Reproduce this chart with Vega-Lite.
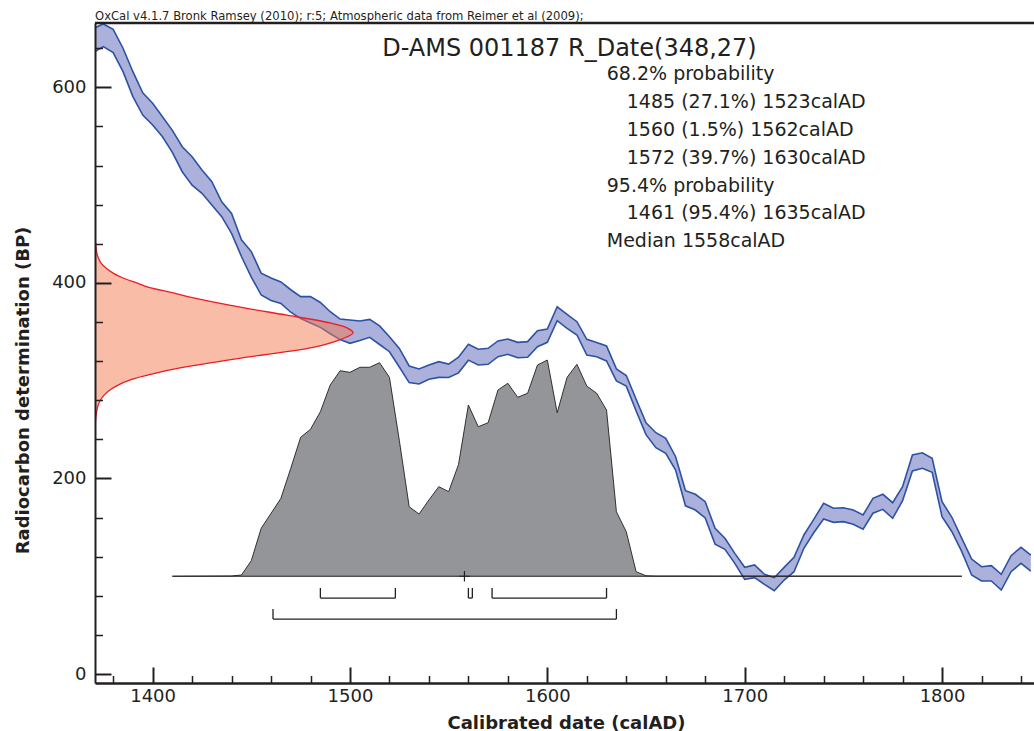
{
  "$schema": "https://vega.github.io/schema/vega-lite/v6.json",
  "width": 939,
  "height": 660,
  "autosize": {"type": "none"},
  "padding": {"left": 95, "top": 23, "right": 0, "bottom": 48},
  "background": "white",
  "config": {"view": {"stroke": null}, "font": "DejaVu Sans"},
  "title": {
    "text": "OxCal v4.1.7 Bronk Ramsey (2010); r:5; Atmospheric data from Reimer et al (2009);",
    "anchor": "start", "frame": "group", "font": "DejaVu Sans", "fontSize": 11.6,
    "fontWeight": "normal", "color": "#231f20", "baseline": "alphabetic", "offset": 2, "dy": 12
  },
  "datasets": {
    "curve": [
      {"year": 1370, "lo": 635.5, "hi": 660.4}, {"year": 1375, "lo": 641.7, "hi": 664.8},
      {"year": 1380, "lo": 635.5, "hi": 659.3}, {"year": 1385, "lo": 616.0, "hi": 640.0},
      {"year": 1390, "lo": 590.5, "hi": 616.0}, {"year": 1395, "lo": 571.7, "hi": 594.5},
      {"year": 1400, "lo": 561.5, "hi": 583.8}, {"year": 1405, "lo": 549.5, "hi": 570.0},
      {"year": 1410, "lo": 533.5, "hi": 556.0}, {"year": 1415, "lo": 513.7, "hi": 539.3},
      {"year": 1420, "lo": 500.0, "hi": 529.0}, {"year": 1425, "lo": 491.6, "hi": 515.4},
      {"year": 1430, "lo": 479.7, "hi": 503.5}, {"year": 1435, "lo": 467.7, "hi": 483.0},
      {"year": 1440, "lo": 450.7, "hi": 471.0}, {"year": 1445, "lo": 427.0, "hi": 444.0},
      {"year": 1450, "lo": 406.0, "hi": 432.0}, {"year": 1455, "lo": 387.6, "hi": 410.0},
      {"year": 1460, "lo": 382.0, "hi": 405.0}, {"year": 1465, "lo": 379.0, "hi": 401.0},
      {"year": 1470, "lo": 370.0, "hi": 393.0}, {"year": 1475, "lo": 363.5, "hi": 386.0},
      {"year": 1480, "lo": 359.0, "hi": 386.0}, {"year": 1485, "lo": 354.5, "hi": 380.0},
      {"year": 1490, "lo": 348.0, "hi": 370.5}, {"year": 1495, "lo": 342.0, "hi": 363.0},
      {"year": 1500, "lo": 338.2, "hi": 362.0}, {"year": 1505, "lo": 341.0, "hi": 361.0},
      {"year": 1510, "lo": 344.3, "hi": 362.7}, {"year": 1515, "lo": 337.0, "hi": 356.0},
      {"year": 1520, "lo": 329.6, "hi": 345.0}, {"year": 1525, "lo": 314.0, "hi": 333.0},
      {"year": 1530, "lo": 298.0, "hi": 315.0}, {"year": 1535, "lo": 296.6, "hi": 312.0},
      {"year": 1540, "lo": 301.4, "hi": 316.0}, {"year": 1545, "lo": 303.4, "hi": 319.4},
      {"year": 1550, "lo": 303.2, "hi": 317.0}, {"year": 1555, "lo": 308.0, "hi": 324.0},
      {"year": 1560, "lo": 321.0, "hi": 337.2}, {"year": 1565, "lo": 316.0, "hi": 332.1},
      {"year": 1570, "lo": 316.7, "hi": 333.1}, {"year": 1575, "lo": 324.5, "hi": 340.6},
      {"year": 1580, "lo": 327.0, "hi": 342.6}, {"year": 1585, "lo": 323.5, "hi": 339.2},
      {"year": 1590, "lo": 324.0, "hi": 339.9}, {"year": 1595, "lo": 334.7, "hi": 351.1},
      {"year": 1600, "lo": 339.2, "hi": 352.8}, {"year": 1605, "lo": 361.3, "hi": 375.6},
      {"year": 1610, "lo": 353.5, "hi": 367.9}, {"year": 1615, "lo": 346.7, "hi": 360.3},
      {"year": 1620, "lo": 326.2, "hi": 342.3}, {"year": 1625, "lo": 324.5, "hi": 339.0},
      {"year": 1630, "lo": 320.2, "hi": 335.5}, {"year": 1635, "lo": 299.8, "hi": 312.0},
      {"year": 1640, "lo": 294.4, "hi": 305.3}, {"year": 1645, "lo": 269.0, "hi": 281.0},
      {"year": 1650, "lo": 244.8, "hi": 257.0}, {"year": 1655, "lo": 231.4, "hi": 246.8},
      {"year": 1660, "lo": 225.7, "hi": 241.0}, {"year": 1665, "lo": 208.6, "hi": 222.2},
      {"year": 1670, "lo": 172.0, "hi": 187.5}, {"year": 1675, "lo": 167.7, "hi": 183.8},
      {"year": 1680, "lo": 159.6, "hi": 176.2}, {"year": 1685, "lo": 132.8, "hi": 149.0},
      {"year": 1690, "lo": 127.5, "hi": 138.8}, {"year": 1695, "lo": 113.2, "hi": 123.4},
      {"year": 1700, "lo": 96.8, "hi": 109.1}, {"year": 1705, "lo": 98.5, "hi": 111.5},
      {"year": 1710, "lo": 91.7, "hi": 102.0}, {"year": 1715, "lo": 85.2, "hi": 98.5},
      {"year": 1720, "lo": 96.1, "hi": 109.1}, {"year": 1725, "lo": 104.6, "hi": 119.3},
      {"year": 1730, "lo": 128.6, "hi": 142.2}, {"year": 1735, "lo": 144.5, "hi": 158.2},
      {"year": 1740, "lo": 158.5, "hi": 174.6}, {"year": 1745, "lo": 155.1, "hi": 169.5},
      {"year": 1750, "lo": 155.8, "hi": 170.1}, {"year": 1755, "lo": 153.1, "hi": 167.7},
      {"year": 1760, "lo": 148.0, "hi": 162.6}, {"year": 1765, "lo": 164.4, "hi": 179.7},
      {"year": 1770, "lo": 168.4, "hi": 183.8}, {"year": 1775, "lo": 159.2, "hi": 175.2},
      {"year": 1780, "lo": 177.2, "hi": 191.6}, {"year": 1785, "lo": 207.6, "hi": 224.0},
      {"year": 1790, "lo": 210.4, "hi": 226.3}, {"year": 1795, "lo": 206.3, "hi": 220.6},
      {"year": 1800, "lo": 160.9, "hi": 176.2}, {"year": 1805, "lo": 145.5, "hi": 160.3},
      {"year": 1810, "lo": 125.1, "hi": 138.8}, {"year": 1815, "lo": 101.2, "hi": 117.6},
      {"year": 1820, "lo": 95.1, "hi": 109.7}, {"year": 1825, "lo": 95.1, "hi": 110.8},
      {"year": 1830, "lo": 85.9, "hi": 102.0}, {"year": 1835, "lo": 104.6, "hi": 121.0},
      {"year": 1840, "lo": 113.2, "hi": 129.6}, {"year": 1845, "lo": 105.3, "hi": 121.7}
    ],
    "rdate": [
      {"bp": 451, "x": 1370.8}, {"bp": 445, "x": 1370.9}, {"bp": 440, "x": 1371.1},
      {"bp": 430, "x": 1371.8}, {"bp": 425, "x": 1372.6}, {"bp": 420, "x": 1374.0},
      {"bp": 415, "x": 1376.5}, {"bp": 410, "x": 1380.0}, {"bp": 405, "x": 1385.0},
      {"bp": 400, "x": 1392.0}, {"bp": 396, "x": 1397.2}, {"bp": 390, "x": 1410.0},
      {"bp": 384, "x": 1422.5}, {"bp": 374, "x": 1447.8}, {"bp": 367, "x": 1468.1},
      {"bp": 359, "x": 1489.9}, {"bp": 354, "x": 1498.5}, {"bp": 349, "x": 1501.6},
      {"bp": 342, "x": 1495.0}, {"bp": 334, "x": 1481.3}, {"bp": 324, "x": 1447.8},
      {"bp": 313, "x": 1413.9}, {"bp": 307, "x": 1400.0}, {"bp": 301, "x": 1389.0},
      {"bp": 295, "x": 1382.0}, {"bp": 290, "x": 1378.0}, {"bp": 285, "x": 1375.3},
      {"bp": 280, "x": 1373.5}, {"bp": 275, "x": 1372.4}, {"bp": 268, "x": 1371.6},
      {"bp": 260, "x": 1371.1}, {"bp": 253, "x": 1370.8}
    ],
    "posterior": [
      {"year": 1410, "p": 100.0}, {"year": 1440, "p": 100.3}, {"year": 1445, "p": 101.2},
      {"year": 1450, "p": 115.9}, {"year": 1455, "p": 149.0}, {"year": 1460, "p": 164.3},
      {"year": 1465, "p": 179.7}, {"year": 1470, "p": 210.4}, {"year": 1475, "p": 242.1},
      {"year": 1480, "p": 250.3}, {"year": 1485, "p": 268.3}, {"year": 1490, "p": 295.6},
      {"year": 1495, "p": 310.2}, {"year": 1500, "p": 308.5}, {"year": 1505, "p": 313.7},
      {"year": 1510, "p": 313.7}, {"year": 1515, "p": 318.4}, {"year": 1520, "p": 303.4},
      {"year": 1525, "p": 239.0}, {"year": 1530, "p": 171.1}, {"year": 1535, "p": 163.6},
      {"year": 1540, "p": 178.0}, {"year": 1545, "p": 191.6}, {"year": 1550, "p": 186.5},
      {"year": 1555, "p": 214.3}, {"year": 1560, "p": 275.1}, {"year": 1565, "p": 252.9},
      {"year": 1570, "p": 257.0}, {"year": 1575, "p": 290.5}, {"year": 1580, "p": 297.3},
      {"year": 1585, "p": 283.0}, {"year": 1590, "p": 287.1}, {"year": 1595, "p": 316.0},
      {"year": 1600, "p": 321.1}, {"year": 1605, "p": 267.2}, {"year": 1610, "p": 303.4},
      {"year": 1615, "p": 316.7}, {"year": 1620, "p": 294.5}, {"year": 1625, "p": 287.1},
      {"year": 1630, "p": 270.0}, {"year": 1635, "p": 166.0}, {"year": 1640, "p": 145.5},
      {"year": 1645, "p": 104.6}, {"year": 1650, "p": 100.5}, {"year": 1655, "p": 100.2},
      {"year": 1810, "p": 100.0}
    ],
    "ranges": [
      {"level": "68.2", "from": 1485, "to": 1523},
      {"level": "68.2", "from": 1560, "to": 1562},
      {"level": "68.2", "from": 1572, "to": 1630},
      {"level": "95.4", "from": 1461, "to": 1635}
    ]
  },
  "layer": [
    {
      "data": {"name": "curve"},
      "mark": {"type": "area", "fill": "#abb1db", "clip": true},
      "encoding": {
        "x": {
          "field": "year", "type": "quantitative",
          "scale": {"domain": [1370.8, 1846.6], "nice": false, "zero": false},
          "axis": {
            "title": "Calibrated date (calAD)",
            "values": [1380, 1390, 1400, 1410, 1420, 1430, 1440, 1450, 1460, 1470, 1480, 1490, 1500, 1510, 1520, 1530, 1540, 1550, 1560, 1570, 1580, 1590, 1600, 1610, 1620, 1630, 1640, 1650, 1660, 1670, 1680, 1690, 1700, 1710, 1720, 1730, 1740, 1750, 1760, 1770, 1780, 1790, 1800, 1810, 1820, 1830, 1840],
            "format": "d",
            "labelExpr": "datum.value % 100 === 0 ? datum.label : ''",
            "labelOverlap": false, "labelFlush": false,
            "labelFont": "DejaVu Sans", "labelFontSize": 18, "labelColor": "#231f20",
            "labelPadding": 20, "labelBaseline": "top",
            "tickSize": {"condition": {"test": "datum.value % 100 === 0", "value": -16}, "value": -7.5},
            "tickWidth": {"condition": {"test": "datum.value % 100 === 0", "value": 2}, "value": 1.5},
            "tickColor": "#231f20",
            "domainColor": "#231f20", "domainWidth": 2.5,
            "grid": false,
            "titleFont": "DejaVu Sans", "titleFontSize": 18, "titleFontWeight": "bold",
            "titleColor": "#231f20", "titleX": 471, "titleY": 45,
            "titleAlign": "center", "titleBaseline": "alphabetic",
            "zindex": 1
          }
        },
        "y": {
          "field": "lo", "type": "quantitative",
          "scale": {"domain": [-9.2, 665.8], "nice": false, "zero": false},
          "axis": {
            "title": "Radiocarbon determination (BP)",
            "values": [0, 10, 20, 30, 40, 50, 60, 70, 80, 90, 100, 110, 120, 130, 140, 150, 160, 170, 180, 190, 200, 210, 220, 230, 240, 250, 260, 270, 280, 290, 300, 310, 320, 330, 340, 350, 360, 370, 380, 390, 400, 410, 420, 430, 440, 450, 460, 470, 480, 490, 500, 510, 520, 530, 540, 550, 560, 570, 580, 590, 600, 610, 620, 630, 640, 650, 660],
            "format": "d",
            "labelExpr": "datum.value % 100 === 0 ? datum.label : ''",
            "labelOverlap": false, "labelFlush": false,
            "labelFont": "DejaVu Sans", "labelFontSize": 18, "labelColor": "#231f20",
            "labelPadding": 25,
            "tickSize": {"condition": {"test": "datum.value % 100 === 0", "value": -16}, "value": -7.5},
            "tickWidth": {"condition": {"test": "datum.value % 100 === 0", "value": 2}, "value": 1.5},
            "tickColor": "#231f20",
            "domainColor": "#231f20", "domainWidth": 2,
            "grid": false,
            "titleFont": "DejaVu Sans", "titleFontSize": 18, "titleFontWeight": "bold",
            "titleColor": "#231f20", "titleX": -72, "titleY": 367,
            "titleAlign": "center", "titleBaseline": "middle", "titleAngle": -90,
            "zindex": 1
          }
        },
        "y2": {"field": "hi"}
      }
    },
    {
      "data": {"name": "curve"},
      "mark": {"type": "line", "stroke": "#2d52a3", "strokeWidth": 1.6, "clip": true},
      "encoding": {
        "x": {"field": "year", "type": "quantitative"},
        "y": {"field": "hi", "type": "quantitative"}
      }
    },
    {
      "data": {"name": "curve"},
      "mark": {"type": "line", "stroke": "#2d52a3", "strokeWidth": 1.6, "clip": true},
      "encoding": {
        "x": {"field": "year", "type": "quantitative"},
        "y": {"field": "lo", "type": "quantitative"}
      }
    },
    {
      "data": {"name": "rdate"},
      "mark": {"type": "area", "orient": "horizontal", "interpolate": "catmull-rom", "fill": "#f47a50", "fillOpacity": 0.5, "clip": true},
      "encoding": {
        "y": {"field": "bp", "type": "quantitative"},
        "x": {"field": "x", "type": "quantitative", "stack": null},
        "x2": {"datum": 1370.8}
      }
    },
    {
      "data": {"name": "rdate"},
      "mark": {"type": "line", "interpolate": "catmull-rom", "stroke": "#ed1c24", "strokeWidth": 1.3, "clip": true},
      "encoding": {
        "y": {"field": "bp", "type": "quantitative"},
        "x": {"field": "x", "type": "quantitative"},
        "order": {"value": null}
      }
    },
    {
      "data": {"name": "posterior"},
      "mark": {"type": "area", "fill": "#939598"},
      "encoding": {
        "x": {"field": "year", "type": "quantitative"},
        "y": {"field": "p", "type": "quantitative"},
        "y2": {"datum": 100}
      }
    },
    {
      "data": {"name": "posterior"},
      "mark": {"type": "line", "stroke": "#231f20", "strokeWidth": 0.9},
      "encoding": {
        "x": {"field": "year", "type": "quantitative"},
        "y": {"field": "p", "type": "quantitative"}
      }
    },
    {
      "data": {"name": "posterior"},
      "transform": [{"aggregate": [{"op": "min", "field": "year", "as": "start"}, {"op": "max", "field": "year", "as": "end"}]}],
      "mark": {"type": "rule", "stroke": "#231f20", "strokeWidth": 1.2},
      "encoding": {
        "x": {"field": "start", "type": "quantitative"},
        "x2": {"field": "end"},
        "y": {"datum": 100}
      }
    },
    {
      "data": {"name": "ranges"},
      "transform": [{"filter": "datum.level === '68.2'"}],
      "mark": {"type": "rule", "stroke": "#231f20", "strokeWidth": 1.3},
      "encoding": {
        "x": {"field": "from", "type": "quantitative"},
        "x2": {"field": "to"},
        "y": {"datum": 77.7}
      }
    },
    {
      "data": {"name": "ranges"},
      "transform": [{"filter": "datum.level === '68.2'"}, {"fold": ["from", "to"], "as": ["end", "edge"]}],
      "mark": {"type": "rule", "stroke": "#231f20", "strokeWidth": 1.3},
      "encoding": {
        "x": {"field": "edge", "type": "quantitative"},
        "y": {"datum": 77.7},
        "y2": {"datum": 88.0}
      }
    },
    {
      "data": {"name": "ranges"},
      "transform": [{"filter": "datum.level === '95.4'"}],
      "mark": {"type": "rule", "stroke": "#231f20", "strokeWidth": 1.3},
      "encoding": {
        "x": {"field": "from", "type": "quantitative"},
        "x2": {"field": "to"},
        "y": {"datum": 56.2}
      }
    },
    {
      "data": {"name": "ranges"},
      "transform": [{"filter": "datum.level === '95.4'"}, {"fold": ["from", "to"], "as": ["end", "edge"]}],
      "mark": {"type": "rule", "stroke": "#231f20", "strokeWidth": 1.3},
      "encoding": {
        "x": {"field": "edge", "type": "quantitative"},
        "y": {"datum": 56.2},
        "y2": {"datum": 66.5}
      }
    },
    {
      "data": {"values": [{"median": 1558}]},
      "mark": {"type": "point", "shape": "M-1,0L1,0M0,-1L0,1", "size": 110, "filled": false, "stroke": "#231f20", "strokeWidth": 1.2, "opacity": 1},
      "encoding": {
        "x": {"field": "median", "type": "quantitative"},
        "y": {"datum": 100}
      }
    },
    {
      "data": {"values": [{"name": "D-AMS 001187 R_Date(348,27)"}]},
      "mark": {"type": "text", "align": "left", "baseline": "middle", "font": "DejaVu Sans", "fontSize": 24, "color": "#231f20"},
      "encoding": {
        "text": {"field": "name"},
        "x": {"datum": 1516.3},
        "y": {"datum": 639.2}
      }
    },
    {
      "data": {"values": [{"line": "68.2% probability"}]},
      "mark": {"type": "text", "align": "left", "baseline": "middle", "font": "DejaVu Sans", "fontSize": 19, "color": "#231f20"},
      "encoding": {"text": {"field": "line"}, "x": {"datum": 1630.1}, "y": {"datum": 614.1}}
    },
    {
      "data": {"values": [{"lines": ["1485 (27.1%) 1523calAD", "1560 (1.5%) 1562calAD", "1572 (39.7%) 1630calAD"]}]},
      "mark": {"type": "text", "align": "left", "baseline": "middle", "font": "DejaVu Sans", "fontSize": 19, "lineHeight": 28, "dx": 20, "color": "#231f20"},
      "encoding": {"text": {"field": "lines"}, "x": {"datum": 1630.1}, "y": {"datum": 585.5}}
    },
    {
      "data": {"values": [{"line": "95.4% probability"}]},
      "mark": {"type": "text", "align": "left", "baseline": "middle", "font": "DejaVu Sans", "fontSize": 19, "color": "#231f20"},
      "encoding": {"text": {"field": "line"}, "x": {"datum": 1630.1}, "y": {"datum": 499.6}}
    },
    {
      "data": {"values": [{"line": "1461 (95.4%) 1635calAD"}]},
      "mark": {"type": "text", "align": "left", "baseline": "middle", "font": "DejaVu Sans", "fontSize": 19, "dx": 20, "color": "#231f20"},
      "encoding": {"text": {"field": "line"}, "x": {"datum": 1630.1}, "y": {"datum": 471.0}}
    },
    {
      "data": {"values": [{"line": "Median 1558calAD"}]},
      "mark": {"type": "text", "align": "left", "baseline": "middle", "font": "DejaVu Sans", "fontSize": 19, "color": "#231f20"},
      "encoding": {"text": {"field": "line"}, "x": {"datum": 1630.1}, "y": {"datum": 442.4}}
    },
    {
      "data": {"values": [{"top": 665.8}]},
      "mark": {"type": "rule", "stroke": "#231f20", "strokeWidth": 2.5},
      "encoding": {
        "y": {"field": "top", "type": "quantitative"}
      }
    }
  ]
}
